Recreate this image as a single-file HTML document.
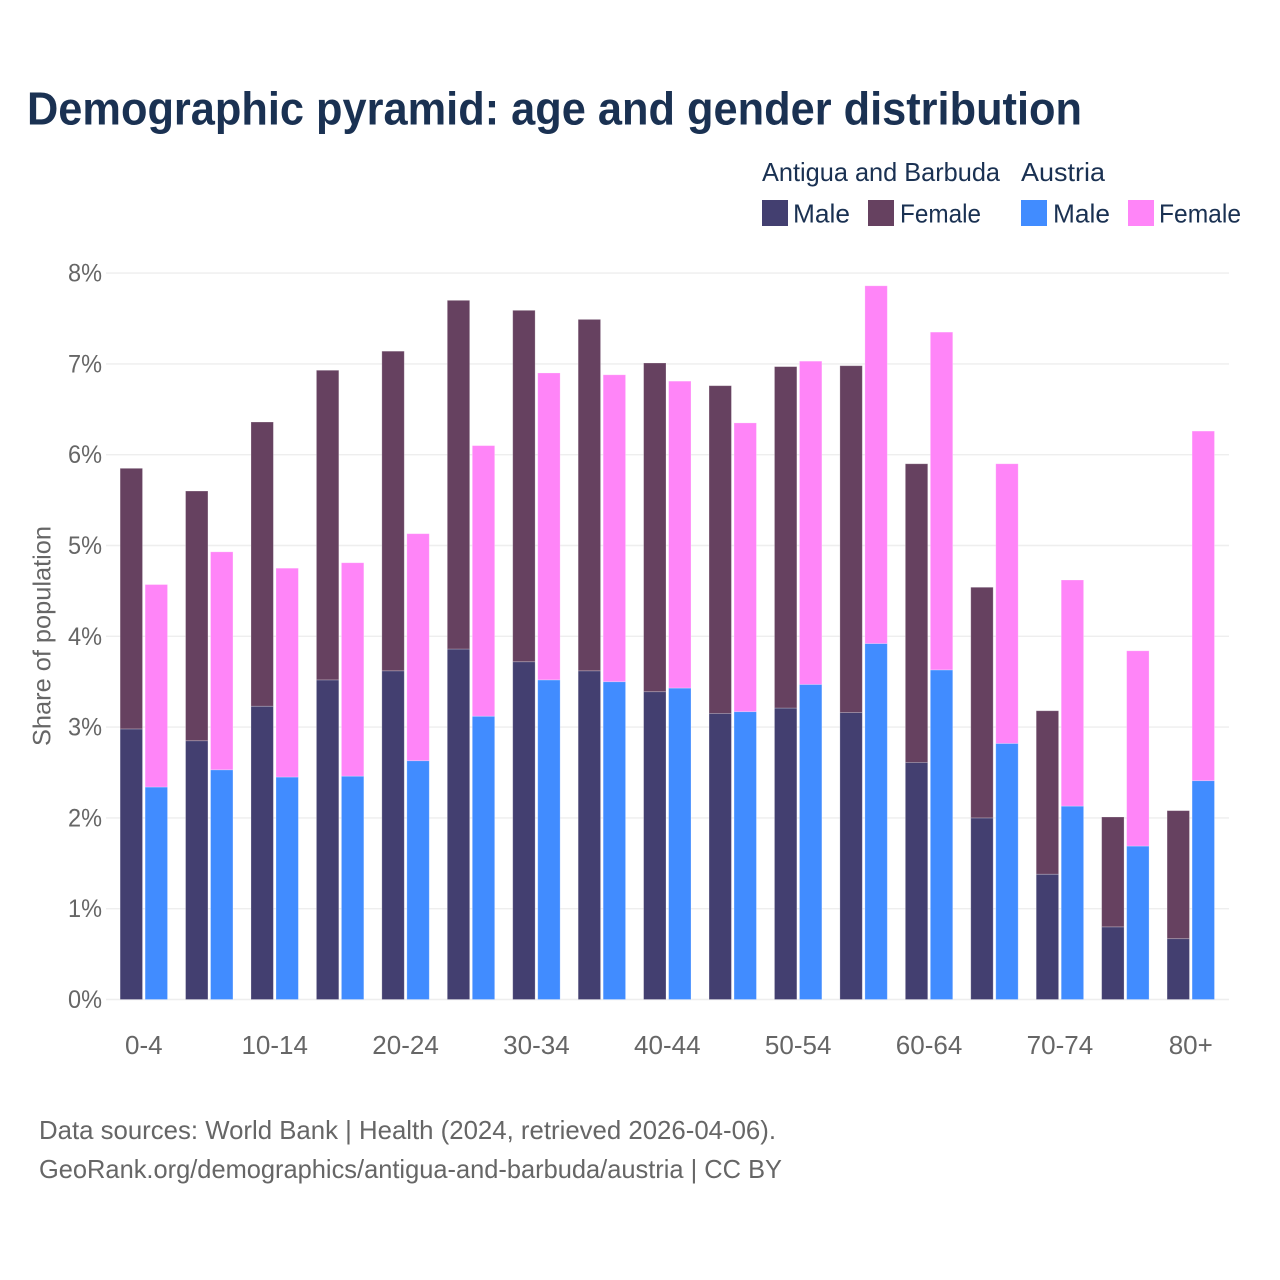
<!DOCTYPE html>
<html lang="en">
<head>
<meta charset="utf-8">
<title>Demographic pyramid: age and gender distribution</title>
<style>
html,body{margin:0;padding:0;background:#fff;}
svg{display:block;font-family:"Liberation Sans",sans-serif;}
</style>
</head>
<body>
<svg id="chart" width="1280" height="1280" viewBox="0 0 1280 1280" xmlns="http://www.w3.org/2000/svg">
  <rect width="1280" height="1280" fill="#fff"/>
  <text x="27" y="124.5" font-size="46" font-weight="700" fill="#1a3152" textLength="1055" lengthAdjust="spacingAndGlyphs">Demographic pyramid: age and gender distribution</text>

  <g font-size="26" fill="#1a3152">
    <text x="762" y="181" textLength="238" lengthAdjust="spacingAndGlyphs">Antigua and Barbuda</text>
    <text x="1021" y="181" textLength="84" lengthAdjust="spacingAndGlyphs">Austria</text>
    <g>
      <rect x="762" y="200" width="26" height="26" fill="#433f70"/>
      <text x="793" y="222.5" textLength="57" lengthAdjust="spacingAndGlyphs">Male</text>
    </g>
    <g>
      <rect x="868" y="200" width="26" height="26" fill="#664160"/>
      <text x="900" y="222.5" textLength="81" lengthAdjust="spacingAndGlyphs">Female</text>
    </g>
    <g>
      <rect x="1021" y="200" width="26" height="26" fill="#418cff"/>
      <text x="1053" y="222.5" textLength="57" lengthAdjust="spacingAndGlyphs">Male</text>
    </g>
    <g>
      <rect x="1128" y="200" width="26" height="26" fill="#ff85f8"/>
      <text x="1159" y="222.5" textLength="82" lengthAdjust="spacingAndGlyphs">Female</text>
    </g>
  </g>

  <g id="grid"></g>
  <g id="bars"></g>
  <g id="ytick-labels"></g>
  <g id="xtick-labels"></g>

  <text transform="translate(50.5,746) rotate(-90)" font-size="25" fill="#666" textLength="220" lengthAdjust="spacingAndGlyphs">Share of population</text>

  <text x="39" y="1139" font-size="26" fill="#666" textLength="737" lengthAdjust="spacingAndGlyphs">Data sources: World Bank | Health (2024, retrieved 2026-04-06).</text>
  <text x="39" y="1178" font-size="26" fill="#666" textLength="743" lengthAdjust="spacingAndGlyphs">GeoRank.org/demographics/antigua-and-barbuda/austria | CC BY</text>
</svg>
<script>
const categories = ["0-4","5-9","10-14","15-19","20-24","25-29","30-34","35-39","40-44","45-49","50-54","55-59","60-64","65-69","70-74","75-79","80+"];
const xTickLabels = ["0-4","10-14","20-24","30-34","40-44","50-54","60-64","70-74","80+"];
const yTicks = [0,1,2,3,4,5,6,7,8];
const antiguaMale = [2.98,2.85,3.23,3.52,3.62,3.86,3.72,3.62,3.39,3.15,3.21,3.16,2.61,2.00,1.38,0.80,0.67];
const antiguaFemale = [2.87,2.75,3.13,3.41,3.52,3.84,3.87,3.87,3.62,3.61,3.76,3.82,3.29,2.54,1.80,1.21,1.41];
const austriaMale = [2.34,2.53,2.45,2.46,2.63,3.12,3.52,3.50,3.43,3.17,3.47,3.92,3.63,2.82,2.13,1.69,2.41];
const austriaFemale = [2.23,2.40,2.30,2.35,2.50,2.98,3.38,3.38,3.38,3.18,3.56,3.94,3.72,3.08,2.49,2.15,3.85];

const NS = "http://www.w3.org/2000/svg";
const rangeLeft = 111.1, rangeRight = 1223.5;
const y0 = 999.5, pxPerUnit = 90.8;
const gridLeft = 106, gridRight = 1229;
const step = (rangeRight - rangeLeft) / categories.length;
const barW = 22.4, barGap = 1.3;

function yScale(v){ return y0 - v * pxPerUnit; }
function xCenter(i){ return rangeLeft + step * (i + 0.5); }
function make(tag, attrs, parent){
  const el = document.createElementNS(NS, tag);
  for (const k in attrs) el.setAttribute(k, attrs[k]);
  parent.appendChild(el);
  return el;
}

const gridG = document.getElementById("grid");
const ytG = document.getElementById("ytick-labels");
yTicks.forEach(function(t){
  const line = make("line", {x1:gridLeft, x2:gridRight, y1:yScale(t), y2:yScale(t), stroke:"#eeeeee", "stroke-width":1.4}, gridG);
  
  
  const label = make("text", {x:102, y:yScale(t)+8.5, "text-anchor":"end", "font-size":25, fill:"#666", textLength:34, lengthAdjust:"spacingAndGlyphs"}, ytG);
  label.textContent = t + "%";
  
  
});

const barsG = document.getElementById("bars");
function drawBar(x, base, value, color){
  const top = yScale(base + value);
  const bar = make("rect", {x:x, y:top, width:barW, height:yScale(base)-top, fill:color, stroke:"#ffffff", "stroke-opacity":0.3, "stroke-width":0.8}, barsG);
  
  
}
categories.forEach(function(c, i){
  const left = xCenter(i) - barW - barGap;
  const right = xCenter(i) + barGap;
  drawBar(left, 0, antiguaMale[i], "#433f70");
  drawBar(left, antiguaMale[i], antiguaFemale[i], "#664160");
  drawBar(right, 0, austriaMale[i], "#418cff");
  drawBar(right, austriaMale[i], austriaFemale[i], "#ff85f8");
});

const xtG = document.getElementById("xtick-labels");
xTickLabels.forEach(function(t){
  const label = make("text", {x:xCenter(categories.indexOf(t)), y:1054, "text-anchor":"middle", "font-size":26, fill:"#666"}, xtG);
  label.textContent = t;
  
  
});
</script>
</body>
</html>
